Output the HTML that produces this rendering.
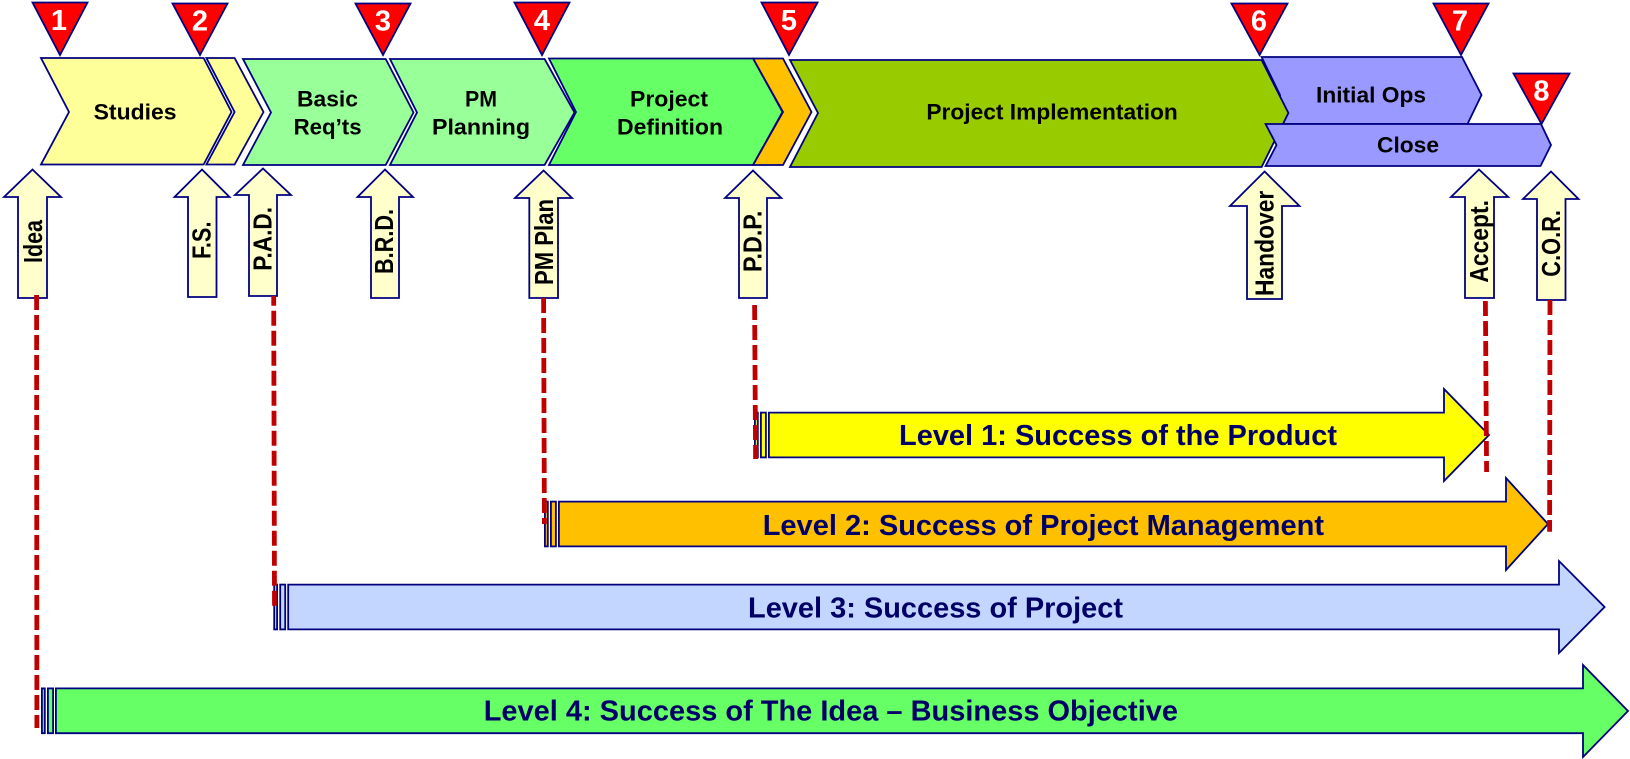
<!DOCTYPE html>
<html>
<head>
<meta charset="utf-8">
<style>
html,body{margin:0;padding:0;background:#fff;width:1630px;height:759px;overflow:hidden}
svg{display:block}
text{font-family:"Liberation Sans",sans-serif;font-weight:bold}
.s{stroke:#000080;stroke-width:1.8;stroke-linejoin:miter}
.t{font-size:22.5px;fill:#000}
.n{font-size:29px;fill:#fff;text-anchor:middle}
.v{font-size:26px;fill:#000}
.l{font-size:29px;fill:#000066}
.a{fill:#FFFFCC}
.r{fill:#FF0000}
.d{stroke:#C00000;stroke-width:4.8;stroke-dasharray:15 5;fill:none}
</style>
</head>
<body>
<svg width="1630" height="759" viewBox="0 0 1630 759" xmlns="http://www.w3.org/2000/svg">
<!-- top chevrons -->
<polygon class="s" fill="#FFFF99" points="206.4,58 234.6,58 263.5,112 234.6,164.5 206.4,164.5 234.6,112"/>
<polygon class="s" fill="#FFFF99" points="41,58 203.6,58 231.5,112 203.6,164.5 41,164.5 69,112"/>
<polygon class="s" fill="#99FF99" points="243,59 385.7,59 413.5,112.5 385.7,165 243,165 271,112.5"/>
<polygon class="s" fill="#99FF99" points="390,59 544.6,59 574.5,112.5 544.6,165 390,165 417,112.5"/>
<polygon class="s" fill="#FFC000" points="753,58.5 783,58.5 811.5,112 783,165 753,165 783,112"/>
<polygon class="s" fill="#66FF66" points="549,58.5 753,58.5 782.5,112 753,165 549,165 576,112"/>
<polygon class="s" fill="#9999FF" points="1261.6,57 1462,57 1481.5,95 1467.5,124 1280,124 1280,95"/>
<polygon class="s" fill="#99CC00" points="790,60 1261.6,60 1288.4,113 1261.6,167 790,167 818,113"/>
<polygon class="s" fill="#9999FF" points="1265.6,124 1541,124 1551,145 1540.5,166 1265.6,166 1276.5,145"/>
<!-- chevron labels -->
<text class="t" x="93.6" y="119.3" textLength="83" lengthAdjust="spacingAndGlyphs">Studies</text>
<text class="t" x="297" y="106.7" textLength="61" lengthAdjust="spacingAndGlyphs">Basic</text>
<text class="t" x="293.6" y="134.3" textLength="68" lengthAdjust="spacingAndGlyphs">Req’ts</text>
<text class="t" x="465" y="106.7" textLength="32" lengthAdjust="spacingAndGlyphs">PM</text>
<text class="t" x="432" y="134.3" textLength="98" lengthAdjust="spacingAndGlyphs">Planning</text>
<text class="t" x="630" y="106.7" textLength="78" lengthAdjust="spacingAndGlyphs">Project</text>
<text class="t" x="617" y="134.3" textLength="106" lengthAdjust="spacingAndGlyphs">Definition</text>
<text class="t" x="926.4" y="119.3" textLength="251.4" lengthAdjust="spacingAndGlyphs">Project Implementation</text>
<text class="t" x="1316" y="102.7" textLength="110" lengthAdjust="spacingAndGlyphs">Initial Ops</text>
<text class="t" x="1377" y="152.7" textLength="62" lengthAdjust="spacingAndGlyphs">Close</text>
<!-- triangles -->
<polygon class="s r" points="32.5,2.5 87.5,2.5 60,55"/>
<polygon class="s r" points="172.5,3.5 227.5,3.5 200,55"/>
<polygon class="s r" points="355.5,3.5 410.5,3.5 383,55"/>
<polygon class="s r" points="514.5,2.5 569.5,2.5 542,55"/>
<polygon class="s r" points="761.5,2.5 817.5,2.5 789,55"/>
<polygon class="s r" points="1231.5,3.5 1287.5,3.5 1259.6,55"/>
<polygon class="s r" points="1433.5,3.5 1488.5,3.5 1461,55"/>
<polygon class="s r" points="1513.5,73.5 1569.5,73.5 1541.5,124"/>
<text class="n" x="59" y="30">1</text>
<text class="n" x="200" y="30.5">2</text>
<text class="n" x="383" y="30.5">3</text>
<text class="n" x="542" y="30">4</text>
<text class="n" x="789" y="30">5</text>
<text class="n" x="1259" y="30.5">6</text>
<text class="n" x="1460" y="30.5">7</text>
<text class="n" x="1541.5" y="100.5">8</text>
<!-- up arrows -->
<polygon class="s a" points="32.5,169.5 61,197 47,197 47,298 18,298 18,197 4,197"/>
<polygon class="s a" points="202,169.5 229.5,197 216.5,197 216.5,297 188,297 188,197 174.5,197"/>
<polygon class="s a" points="263,168.5 291,195 277,195 277,296 249,296 249,195 235,195"/>
<polygon class="s a" points="385,169.5 413,197 399,197 399,298 371,298 371,197 357.5,197"/>
<polygon class="s a" points="543.6,170.5 572,198 558,198 558,298 529.3,298 529.3,198 515,198"/>
<polygon class="s a" points="753,170.5 781.3,198 767,198 767,298 739,298 739,198 725,198"/>
<polygon class="s a" points="1264.6,171.5 1299.5,206 1282,206 1282,299 1247,299 1247,206 1230,206"/>
<polygon class="s a" points="1479,169.5 1508.2,197 1494,197 1494,298 1465,298 1465,197 1451,197"/>
<polygon class="s a" points="1551,171.5 1578.5,199 1565.5,199 1565.5,300 1537,300 1537,199 1523,199"/>
<!-- vertical labels -->
<text class="v" transform="translate(42,263) rotate(-90)" textLength="43" lengthAdjust="spacingAndGlyphs">Idea</text>
<text class="v" transform="translate(210.7,259) rotate(-90)" textLength="37.5" lengthAdjust="spacingAndGlyphs">F.S.</text>
<text class="v" transform="translate(271.4,270.7) rotate(-90)" textLength="63.7" lengthAdjust="spacingAndGlyphs">P.A.D.</text>
<text class="v" transform="translate(392.9,274) rotate(-90)" textLength="65" lengthAdjust="spacingAndGlyphs">B.R.D.</text>
<text class="v" transform="translate(552.9,285) rotate(-90)" textLength="86" lengthAdjust="spacingAndGlyphs">PM Plan</text>
<text class="v" transform="translate(761.4,272) rotate(-90)" textLength="61.3" lengthAdjust="spacingAndGlyphs">P.D.P.</text>
<text class="v" transform="translate(1273.4,296) rotate(-90)" textLength="105.3" lengthAdjust="spacingAndGlyphs">Handover</text>
<text class="v" transform="translate(1487.8,282.7) rotate(-90)" textLength="82.7" lengthAdjust="spacingAndGlyphs">Accept.</text>
<text class="v" transform="translate(1559.8,276.7) rotate(-90)" textLength="66.7" lengthAdjust="spacingAndGlyphs">C.O.R.</text>
<!-- level arrows -->
<rect class="s" fill="#FFFF00" x="754.9" y="412.6" width="2.9" height="44.8"/>
<rect class="s" fill="#FFFF00" x="760.9" y="412.6" width="5" height="44.8"/>
<polygon class="s" fill="#FFFF00" points="768.9,412.6 1444,412.6 1444,389 1489,435 1444,481 1444,457.4 768.9,457.4"/>
<rect class="s" fill="#FFC000" x="544.9" y="501.6" width="2.9" height="44.8"/>
<rect class="s" fill="#FFC000" x="550.9" y="501.6" width="5" height="44.8"/>
<polygon class="s" fill="#FFC000" points="558.9,501.6 1506,501.6 1506,478 1548,524 1506,570 1506,546.4 558.9,546.4"/>
<rect class="s" fill="#C3D6FF" x="274.2" y="584.6" width="2.9" height="44.8"/>
<rect class="s" fill="#C3D6FF" x="280.2" y="584.6" width="5" height="44.8"/>
<polygon class="s" fill="#C3D6FF" points="288.2,584.6 1559,584.6 1559,561 1604.6,607 1559,653 1559,629.4 288.2,629.4"/>
<rect class="s" fill="#66FF66" x="41.9" y="688.4" width="2.9" height="44.8"/>
<rect class="s" fill="#66FF66" x="47.9" y="688.4" width="5.2" height="44.8"/>
<polygon class="s" fill="#66FF66" points="55.9,688.4 1583,688.4 1583,665 1628,711 1583,757 1583,733.2 55.9,733.2"/>
<text class="l" x="899" y="445" textLength="438" lengthAdjust="spacingAndGlyphs">Level 1: Success of the Product</text>
<text class="l" x="762.7" y="535" textLength="561.3" lengthAdjust="spacingAndGlyphs">Level 2: Success of Project Management</text>
<text class="l" x="748" y="617.7" textLength="375" lengthAdjust="spacingAndGlyphs">Level 3: Success of Project</text>
<text class="l" x="483.7" y="720.7" textLength="694.3" lengthAdjust="spacingAndGlyphs">Level 4: Success of The Idea – Business Objective</text>
<!-- dashed lines -->
<line class="d" x1="36.6" y1="295" x2="36.9" y2="728"/>
<line class="d" x1="273.7" y1="296" x2="274.5" y2="605.7" stroke-dashoffset="5.3"/>
<line class="d" x1="543.6" y1="298" x2="544.4" y2="524"/>
<line class="d" x1="754.6" y1="305" x2="755.6" y2="459"/>
<line class="d" x1="1485.4" y1="301" x2="1486.6" y2="472"/>
<line class="d" x1="1550" y1="300" x2="1549.6" y2="531.7"/>
</svg>
</body>
</html>
